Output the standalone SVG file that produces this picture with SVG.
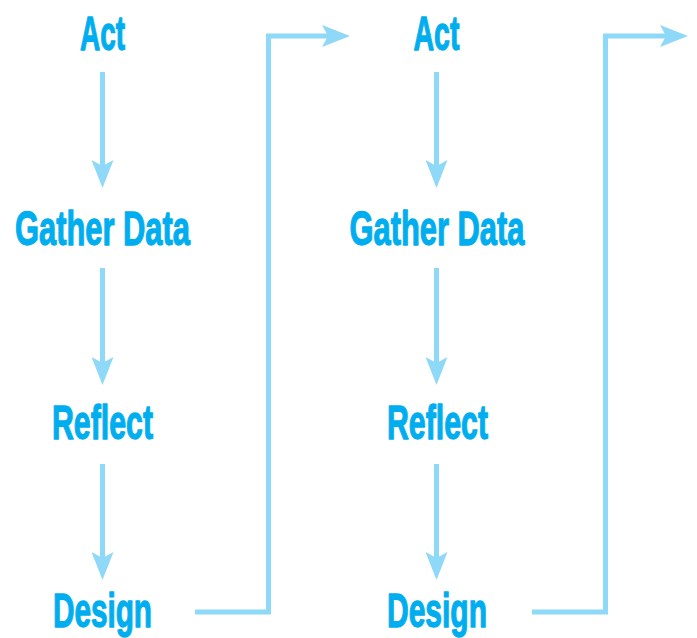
<svg xmlns="http://www.w3.org/2000/svg" width="697" height="638" viewBox="0 0 697 638">
<style>
.lbl{font-family:"Liberation Sans",Arial,sans-serif;font-weight:bold;font-size:49px;fill:#00AEEF;stroke:#00AEEF;stroke-width:1.3;stroke-linejoin:round;text-anchor:middle}
.con{fill:none;stroke:#8ED8F8;stroke-width:5;marker-end:url(#ah)}
</style>
<defs>
<marker id="ah" markerUnits="userSpaceOnUse" viewBox="0 0 28 22" markerWidth="28" markerHeight="22" refX="18" refY="11" orient="auto">
<path d="M0,0 L28,11 L0,22 L6,11 Z" fill="#8ED8F8"/>
</marker>
</defs>
<rect width="697" height="638" fill="#fff"/>
<g id="connectors">
<path class="con" d="M102.5,72 V178"/>
<path class="con" d="M102.5,268 V375"/>
<path class="con" d="M102.5,464 V570"/>
<path class="con" d="M436.5,72 V178"/>
<path class="con" d="M436.5,268 V375"/>
<path class="con" d="M436.5,464 V570"/>
<path class="con" d="M195,612 H268.5 V36 H340"/>
<path class="con" d="M532,612 H605.5 V36 H678"/>
</g>
<g id="act1"><text class="lbl" x="102.5" y="50" textLength="45" lengthAdjust="spacingAndGlyphs">Act</text></g>
<g id="gather1"><text class="lbl" x="102.5" y="245" textLength="175" lengthAdjust="spacingAndGlyphs">Gather Data</text></g>
<g id="reflect1"><text class="lbl" x="102.5" y="439" textLength="101" lengthAdjust="spacingAndGlyphs">Reflect</text></g>
<g id="design1"><text class="lbl" x="102.5" y="627" textLength="99" lengthAdjust="spacingAndGlyphs">Design</text></g>
<g id="act2"><text class="lbl" x="436.5" y="50" textLength="46" lengthAdjust="spacingAndGlyphs">Act</text></g>
<g id="gather2"><text class="lbl" x="437" y="245" textLength="175" lengthAdjust="spacingAndGlyphs">Gather Data</text></g>
<g id="reflect2"><text class="lbl" x="437.5" y="439" textLength="101" lengthAdjust="spacingAndGlyphs">Reflect</text></g>
<g id="design2"><text class="lbl" x="437" y="627" textLength="100" lengthAdjust="spacingAndGlyphs">Design</text></g>
</svg>
